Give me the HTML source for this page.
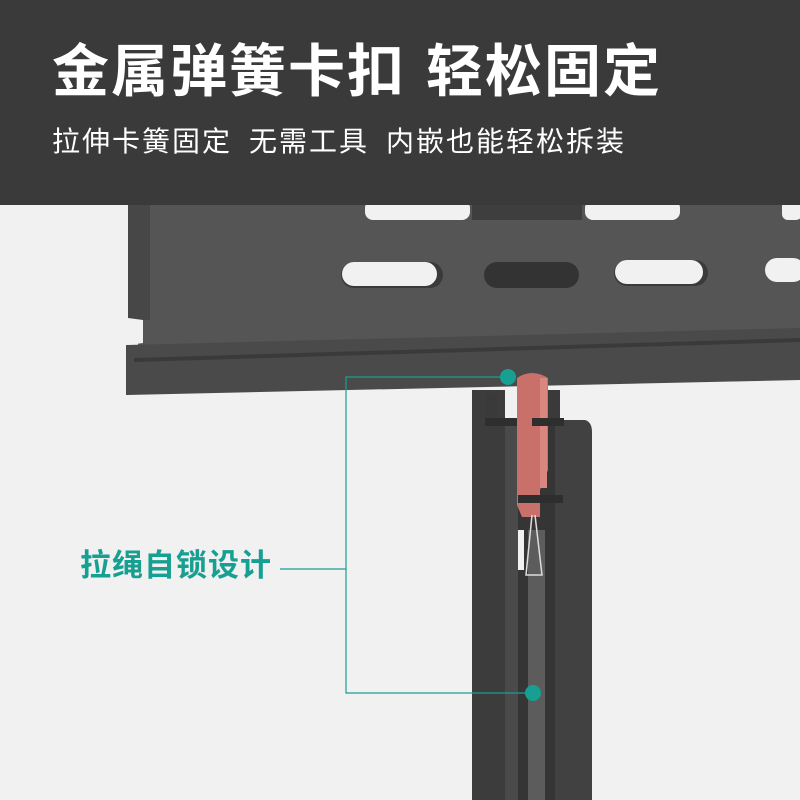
<!DOCTYPE html>
<html><head><meta charset="utf-8"><style>
html,body{margin:0;padding:0;}
body{width:800px;height:800px;overflow:hidden;background:#f1f1f1;position:relative;font-family:"Liberation Sans","Noto Sans CJK SC",sans-serif;}
svg{position:absolute;left:0;top:0;}
.h{position:absolute;left:0;top:0;width:800px;height:205px;background:#3a3a3a;}
.t1{position:absolute;left:52px;top:44px;color:#fff;font-size:57px;font-weight:bold;letter-spacing:2px;white-space:nowrap;line-height:1;}
.t1 span{display:inline-block;width:20px;}
.t2{position:absolute;left:52px;top:128px;color:#fff;font-size:28px;white-space:nowrap;line-height:1;letter-spacing:2px;}
.t2 span{display:inline-block;width:17px;}
.lab{position:absolute;left:80px;top:550px;color:#17a091;font-size:31px;font-weight:bold;white-space:nowrap;line-height:1;letter-spacing:1px;}
</style></head><body>
<svg width="800" height="800" viewBox="0 0 800 800">
  <rect x="472" y="390" width="33" height="410" fill="#3c3c3c"/>
  <rect x="505" y="425" width="13" height="375" fill="#4a4a4a"/>
  <rect x="518" y="420" width="40" height="380" fill="#353535"/>
  <path d="M555 420 L585 420 Q592 422 592 432 L592 800 L555 800 Z" fill="#414141"/>
  <rect x="518" y="530" width="6" height="40" fill="#f1f1f1"/>
  <path d="M128 205 L800 205 L800 340 L138 360 L138 340 L128 330 Z" fill="#555"/>
  <path d="M128 205 L150 205 L150 320 L128 320 Z" fill="#474747"/>
  <path d="M128 318 L143 320 L143 343 L128 345 Z" fill="#f1f1f1"/>
  <path d="M126 345 L800 328 L800 380 L126 395 Z" fill="#4a4a4a"/>
  <path d="M134 358 L800 338 L800 342 L134 362 Z" fill="#3a3a3a"/>
  <rect x="365" y="200" width="105" height="20" rx="8" fill="#f1f1f1"/>
  <rect x="585" y="200" width="95" height="20" rx="8" fill="#f1f1f1"/>
  <rect x="782" y="200" width="20" height="20" rx="6" fill="#f1f1f1"/>
  <rect x="472" y="205" width="110" height="15" fill="#3e3e3e"/>
  <rect x="341" y="262" width="102" height="26" rx="13" fill="#3a3a3a"/>
  <rect x="342" y="262" width="95" height="24" rx="12" fill="#f1f1f1"/>
  <rect x="484" y="262" width="95" height="26" rx="13" fill="#333"/>
  <rect x="614" y="260" width="94" height="26" rx="13" fill="#3a3a3a"/>
  <rect x="615" y="260" width="88" height="24" rx="12" fill="#f1f1f1"/>
  <rect x="765" y="258" width="40" height="24" rx="12" fill="#f1f1f1"/>
  <rect x="485" y="393" width="12" height="30" fill="#3a3a3a"/>
  <rect x="545" y="390" width="15" height="30" fill="#3a3a3a"/>
  <rect x="485" y="418" width="78" height="8" fill="#2e2e2e"/>
  <path d="M517 378 Q532 368 548 378 L548 470 L540 490 L540 517 L522 517 L517 505 Z" fill="#c9706a"/>
  <rect x="540" y="378" width="7" height="110" fill="#d98880"/>
  <rect x="532" y="418" width="32" height="8" fill="#2e2e2e"/>
  <rect x="518" y="495" width="45" height="8" fill="#2e2e2e"/>
  <rect x="528" y="530" width="17" height="270" fill="#5c5c5c"/>
  <path d="M532 515 L526 575 L542 575 L535 515" fill="none" stroke="#ddd" stroke-width="1.5"/>
  <polyline points="500,377 346,377 346,693 533,693" fill="none" stroke="#17a091" stroke-width="1.2"/>
  <line x1="280" y1="569" x2="346" y2="569" stroke="#17a091" stroke-width="1.2"/>
  <circle cx="508" cy="377" r="8" fill="#17a091"/>
  <circle cx="533" cy="693" r="8" fill="#17a091"/>
</svg>
<div class="h"></div>
<div class="t1">金属弹簧卡扣<span></span>轻松固定</div>
<div class="t2">拉伸卡簧固定<span></span>无需工具<span></span>内嵌也能轻松拆装</div>
<div class="lab">拉绳自锁设计</div>
</body></html>
